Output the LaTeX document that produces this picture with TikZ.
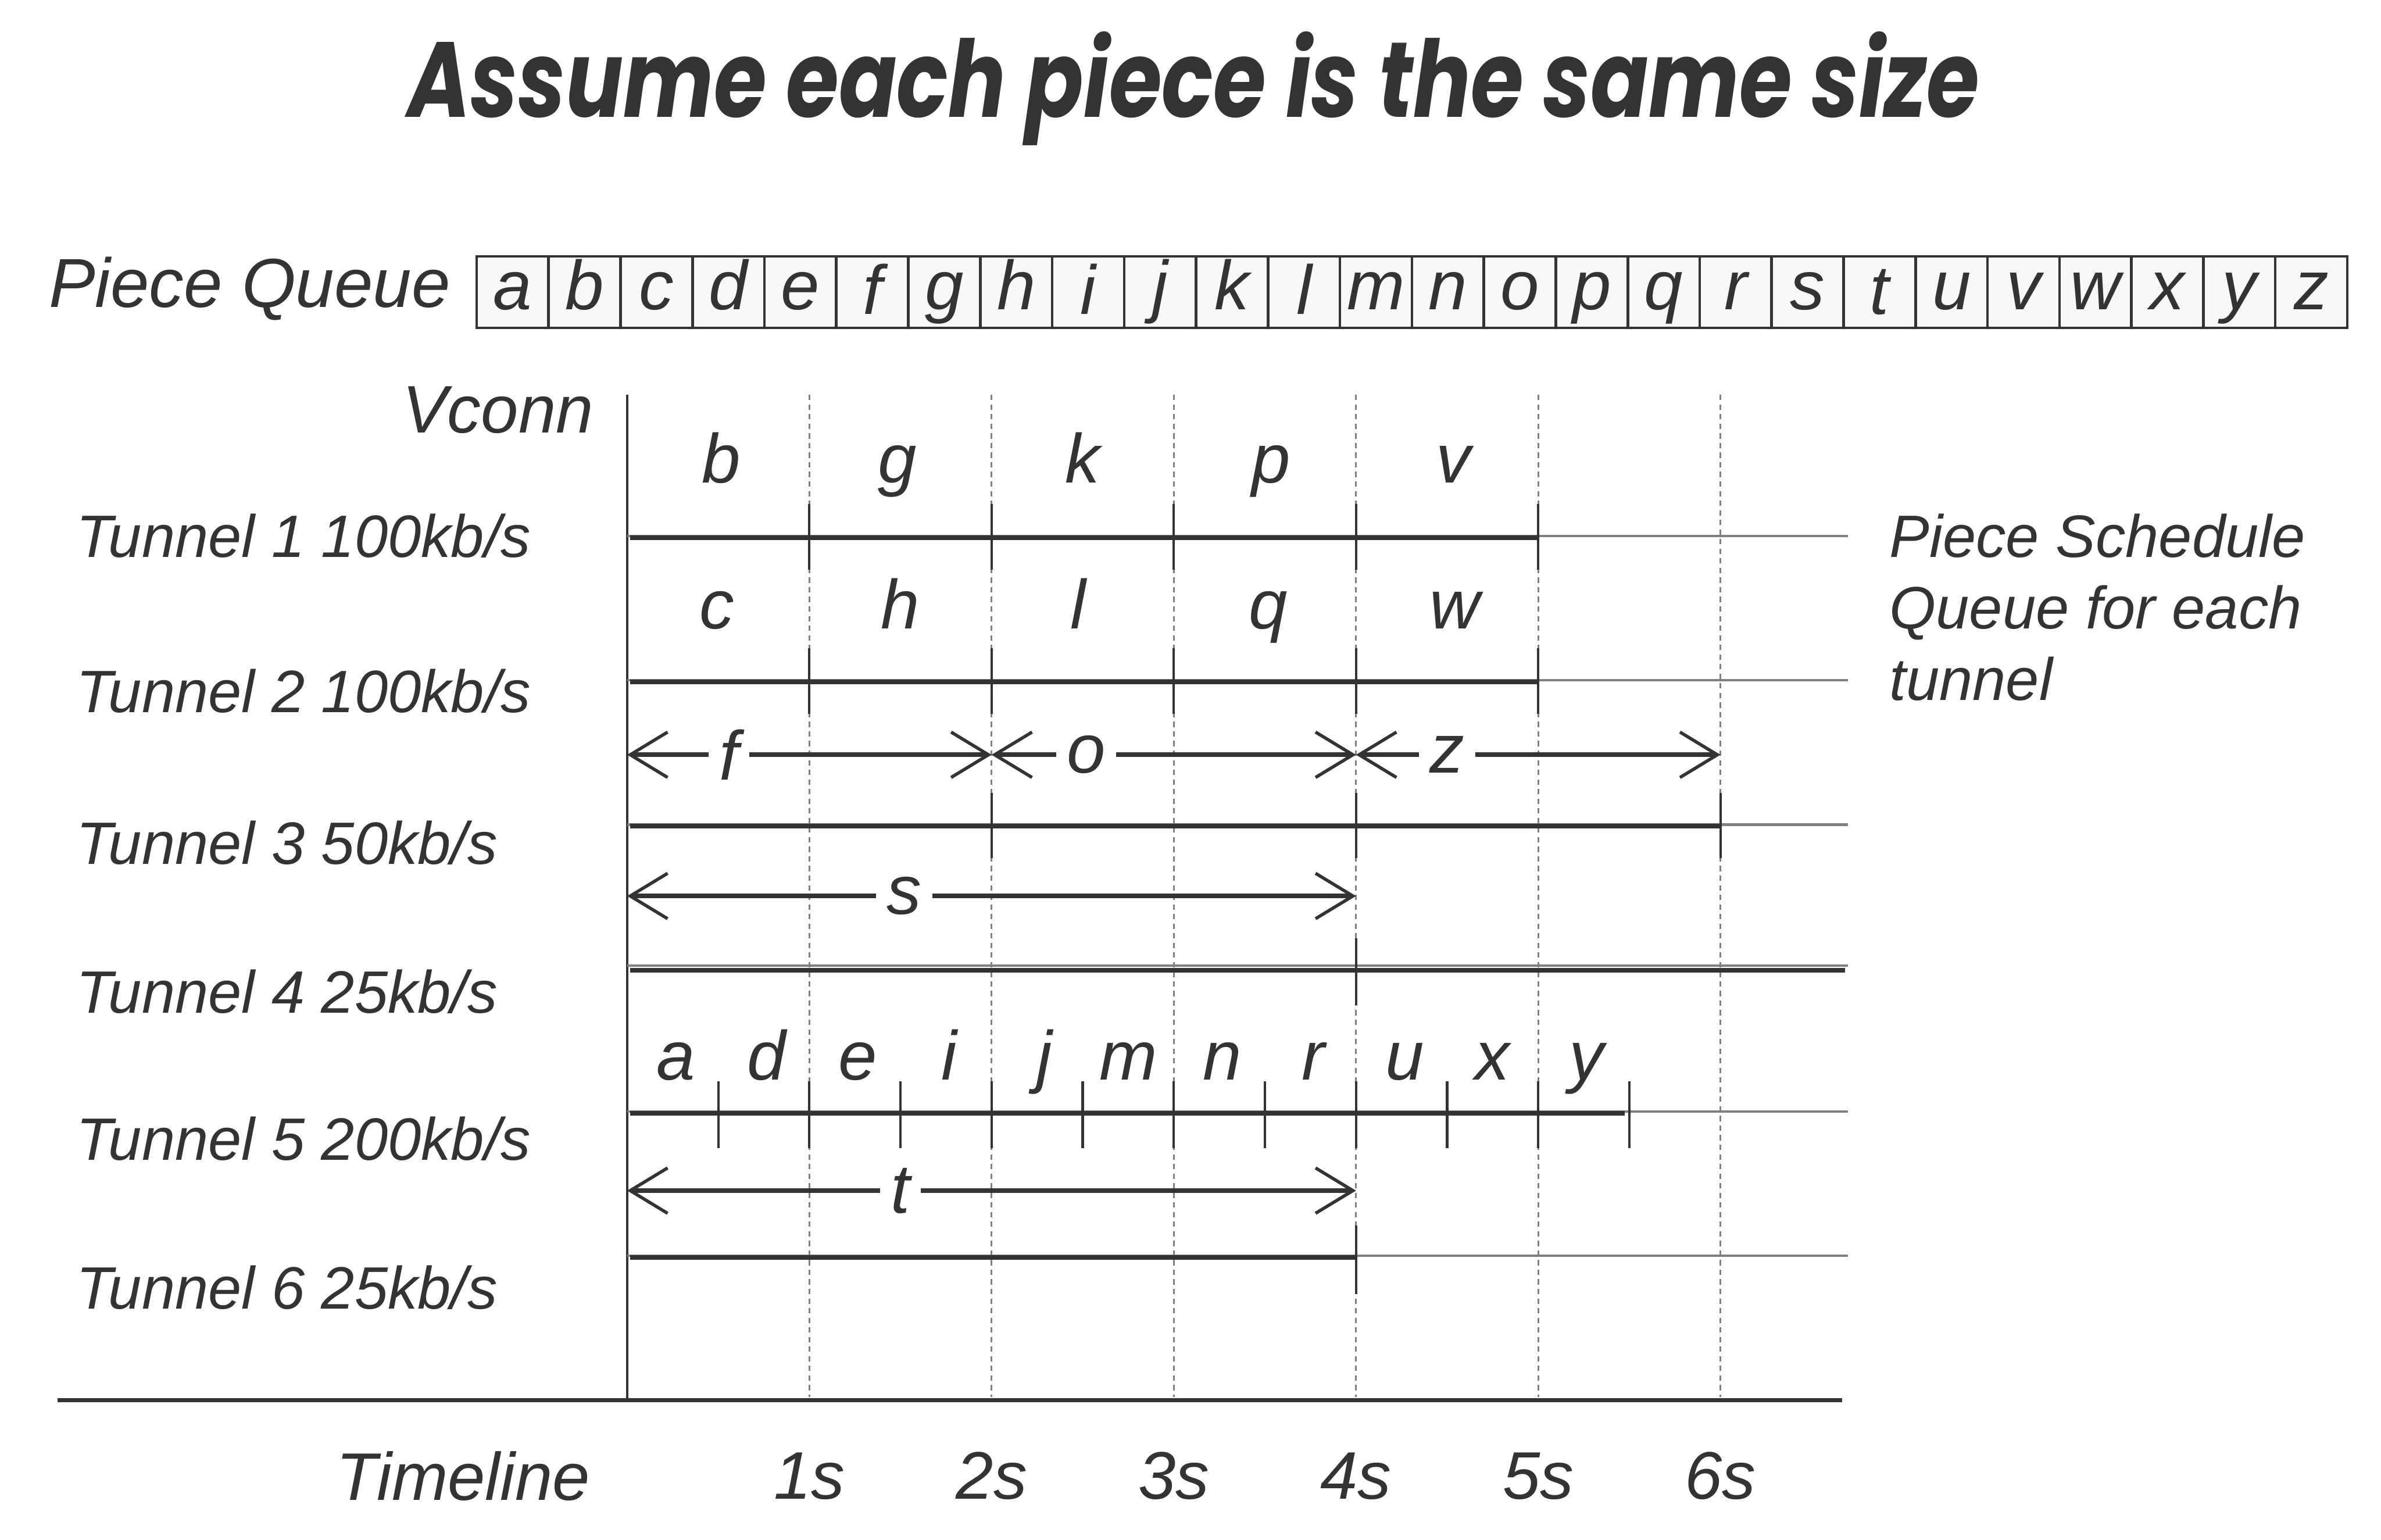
\documentclass[tikz,border=0pt]{standalone}
\usepackage{fontspec}
\setmainfont{Liberation Sans}
\newfontfamily\titlefont{Poppins}
\usetikzlibrary{arrows.meta}
\definecolor{ink}{HTML}{333333}
\definecolor{rule}{HTML}{808080}
\definecolor{cellfill}{HTML}{F8F8F8}
\tikzset{
  lbl/.style={text=ink, font=\itshape\fontsize{11.2}{13.4}\selectfont},
  biglbl/.style={text=ink, font=\itshape\fontsize{12.6}{15}\selectfont},
  piece/.style={text=ink, font=\itshape\fontsize{13}{15}\selectfont, inner sep=2pt},
  cell/.style={draw=ink, line width=0.5pt, fill=cellfill, minimum width=0.4738cm,
    minimum height=0.47cm, inner sep=0pt, text height=9.4pt, text depth=2.8pt,
    text=ink, font=\itshape\fontsize{13}{15}\selectfont},
  tunnel/.style={ink, line width=0.9pt},
  ext/.style={rule, line width=0.45pt},
  tick/.style={ink, line width=0.45pt},
  second/.style={rule, line width=0.3pt, dash pattern=on 1pt off 0.8pt},
  barb/.tip={Straight Barb[length=7pt, width=8.5pt, line width=0.6pt]},
  span/.style={ink, line width=0.9pt, barb-barb},
}
\begin{document}
\begin{tikzpicture}[x=0.01cm, y=-0.01cm]
    \useasboundingbox (0,0) rectangle (1568,1014);
    % Title
    \node[text=ink, anchor=base, font=\titlefont\bfseries\itshape\fontsize{20}{24}\selectfont] (title) at (786,77) {\scalebox{0.8}[1]{Assume each piece is the same size}};
    % Piece queue
    \node[biglbl, font=\itshape\fontsize{13}{15}\selectfont, anchor=east] (queue) at (309,190) {Piece Queue};
    \foreach \p/\d [count=\i from 0] in {a/0,b/0,c/0,d/0,e/0,f/3,g/0,h/0,i/3,j/0,k/0,l/3,m/0,
        n/0,o/0,p/0,q/0,r/0,s/0,t/3,u/0,v/0,w/0,x/0,y/0,z/0}
        \node[cell, anchor=north west] (q\p) at ({313+47.38*\i},168) {\raisebox{-\d\dimexpr0.2845pt\relax}{\p}};
    % Axes and seconds
    \coordinate (top) at (413,260);
    \coordinate (origin) at (413,922);
    \coordinate (left) at (38,922);
    \coordinate (right) at (1213,922);
    \foreach \s in {1,...,6}
        \draw[second] ({413+120*\s},260) -- ({413+120*\s},920);
    \draw[ink, line width=0.4pt] (top) -- (origin);
    \draw[ink, line width=0.8pt] (left) -- (right);
    \node[biglbl] (vconn) at (328,270) {Vconn};
    \node[biglbl] (timeline) at (305,972) {Timeline};
    \foreach \s in {1,...,6}
        \node[biglbl] (sec\s) at ({415+120*\s-2},972) {\s s};
    % Tunnel labels
    \node[lbl, anchor=west] (t1) at (38,353) {Tunnel 1 100kb/s};
    \node[lbl, anchor=west] (t2) at (38,455) {Tunnel 2 100kb/s};
    \node[lbl, anchor=west] (t3) at (38,555) {Tunnel 3 50kb/s};
    \node[lbl, anchor=west] (t4) at (38,653) {Tunnel 4 25kb/s};
    \node[lbl, anchor=west] (t5) at (38,750) {Tunnel 5 200kb/s};
    \node[lbl, anchor=west] (t6) at (38,848) {Tunnel 6 25kb/s};
    \node[lbl, anchor=north west, align=left] (note) at (1232,326) {Piece Schedule\\Queue for each\\tunnel};
    % Tunnel 1
    \draw[ext] (413,353) -- (1217,353);
    \draw[tunnel] (415,354) -- (1013,354);
    \foreach \x in {533,653,...,1013} \draw[tick] (\x,332) -- (\x,375);
    \foreach \p/\x in {b/475,g/591,k/713,p/837,v/957}
        \node[piece, anchor=base] (s\p) at (\x,318) {\p};
    % Tunnel 2
    \draw[ext] (413,448) -- (1217,448);
    \draw[tunnel] (415,449) -- (1013,449);
    \foreach \x in {533,653,...,1013} \draw[tick] (\x,427) -- (\x,470);
    \foreach \p/\x in {c/472,h/593,l/710,q/835,w/958}
        \node[piece, anchor=base] (s\p) at (\x,414) {\p};
    % Tunnel 3
    \draw[span] (413,497) -- node[piece, fill=white, pos=0.28] (sf) {f} (653,497);
    \draw[span] (653,497) -- node[piece, fill=white, pos=0.26] (so) {o} (893,497);
    \draw[span] (893,497) -- node[piece, fill=white, pos=0.25] (sz) {z} (1133,497);
    \draw[ext] (413,543) -- (1217,543);
    \draw[tunnel] (415,544) -- (1133,544);
    \foreach \x in {653,893,1133} \draw[tick] (\x,522) -- (\x,565);
    % Tunnel 4
    \draw[span] (413,590) -- node[piece, fill=white, pos=0.38] (ss) {s} (893,590);
    \draw[ext] (413,636) -- (1217,636);
    \draw[tunnel] (415,639) -- (1215,639);
    \draw[tick] (893,618) -- (893,662);
    % Tunnel 5
    \draw[ext] (413,732) -- (1217,732);
    \draw[tunnel] (415,733) -- (1070,733);
    \foreach \x in {473,533,...,1073} \draw[tick] (\x,712) -- (\x,756);
    \foreach \p/\x in {a/445,d/505,e/565,i/625,j/688,m/743,n/805,r/865,u/925,x/983,y/1045}
        \node[piece, anchor=base] (s\p) at (\x,711) {\p};
    % Tunnel 6
    \draw[span] (413,784) -- node[piece, fill=white, pos=0.375] (st) {t} (893,784);
    \draw[ext] (413,827) -- (1217,827);
    \draw[tunnel] (415,828) -- (893,828);
    \draw[tick] (893,807) -- (893,852);
\end{tikzpicture}
\end{document}
